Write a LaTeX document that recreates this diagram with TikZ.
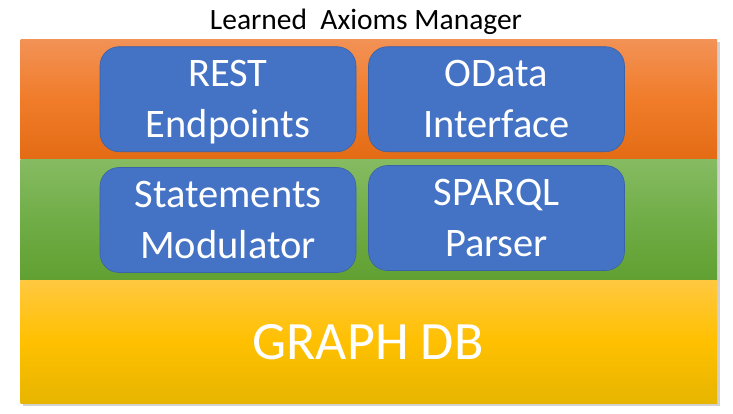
\documentclass[tikz,border=0pt]{standalone}
\usepackage{fontspec}
\setmainfont{Carlito}
\definecolor{orangetop}{HTML}{F29256}
\definecolor{orangemid}{HTML}{F07C2A}
\definecolor{orangebot}{HTML}{E46B14}
\definecolor{greentop}{HTML}{86BB62}
\definecolor{greenmid}{HTML}{70AD47}
\definecolor{greenbot}{HTML}{61A031}
\definecolor{yellowtop}{HTML}{FFC840}
\definecolor{yellowmid}{HTML}{FFC000}
\definecolor{yellowbot}{HTML}{E7B500}
\definecolor{boxblue}{HTML}{4472C4}
\definecolor{boxedge}{HTML}{3A62A8}
\tikzset{
  layer/.style={draw=none},
  module/.style={rectangle, rounded corners=19pt, fill=boxblue, draw=boxedge, line width=0.6pt,
    minimum width=256pt, minimum height=105pt, text=white, align=center, text depth=0pt,
    font=\fontsize{40.5}{51}\selectfont, inner sep=0pt}
}
\begin{document}
\begin{tikzpicture}[x=1pt,y=-1pt]
\useasboundingbox (0,0) rectangle (733,413);
% shadow
\fill[black!18] (23,42) rectangle (720,406);
% layers
\shade[layer, top color=orangetop, bottom color=orangebot, middle color=orangemid] (20.5,39) rectangle (717,159.5);
\shade[layer, top color=greentop, bottom color=greenbot, middle color=greenmid] (20.5,159.5) rectangle (717,280);
\shade[layer, top color=yellowtop, bottom color=yellowbot, middle color=yellowmid] (20.5,280) rectangle (717,403);
\node[anchor=base, font=\fontsize{29.5}{33}\selectfont] (title) at (366,29.5) {Learned\ \ Axioms\ Manager};
\node[module] (rest) at (228,99.2) {REST\\Endpoints};
\node[module] (odata) at (496.5,99.2) {OData\\Interface};
\node[module] (stmt) at (228,220) {Statements\\Modulator};
\node[module] (sparql) at (496.5,218) {SPARQL\\Parser};
\node[text=white, font=\fontsize{54}{60}\selectfont] (graphdb) at (368,342) {GRAPH DB};
\end{tikzpicture}
\end{document}
